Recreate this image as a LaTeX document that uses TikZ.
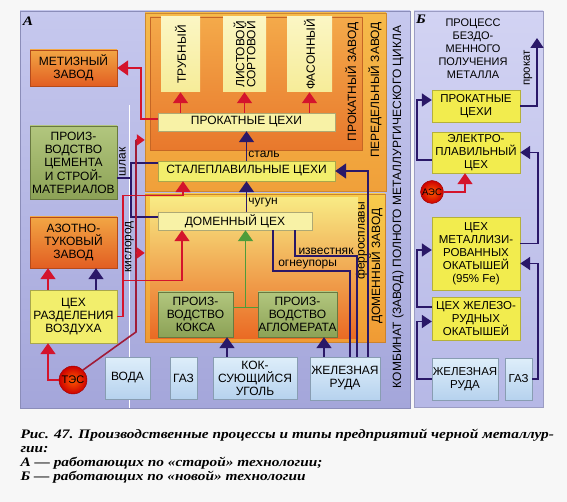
\documentclass[tikz,border=0pt]{standalone}
\usepackage{fontspec}
\setmainfont{Liberation Sans}
\newfontfamily\capfont[FakeStretch=1.18]{Liberation Serif}
\usetikzlibrary{arrows.meta}
\definecolor{redln}{HTML}{D4142C}
\definecolor{navyln}{HTML}{2A1868}
\definecolor{greenln}{HTML}{4E9C3A}
\definecolor{maroonln}{HTML}{A01C38}
\definecolor{panAt}{HTML}{C6C8EE}
\definecolor{panAb}{HTML}{A4A6DA}
\definecolor{panBt}{HTML}{D2D3F3}
\definecolor{panBb}{HTML}{B6B8E6}
\definecolor{yelA}{HTML}{F8F2A6}
\definecolor{yelS}{HTML}{F2EE6C}
\definecolor{yelB}{HTML}{F2EC4E}
\definecolor{orT}{HTML}{F2A644}
\definecolor{orB}{HTML}{E25E22}
\definecolor{grT}{HTML}{B2C67E}
\definecolor{grB}{HTML}{8CA256}
\definecolor{blT}{HTML}{DEEEFA}
\definecolor{blB}{HTML}{B6D2EE}
\definecolor{perT}{HTML}{F6BA4A}
\definecolor{perB}{HTML}{F0A03A}
\definecolor{przT}{HTML}{F4AA4A}
\definecolor{przB}{HTML}{E8782C}
\definecolor{colT}{HTML}{FBF6C4}
\definecolor{colB}{HTML}{F6EC98}
\definecolor{domT}{HTML}{F7CC4C}
\definecolor{domB}{HTML}{F09A34}
\definecolor{dinT}{HTML}{F8EA84}
\definecolor{dinB}{HTML}{EA6A24}
\newcommand\txtA{\fontsize{12}{13}\selectfont}
\newcommand\txtB{\fontsize{11.5}{13}\selectfont}
\newcommand\capf{\capfont\bfseries\itshape\fontsize{13}{14}\selectfont}
\begin{document}
\begin{tikzpicture}[x=1pt,y=-1pt,font=\txtA,
    box/.style={inner sep=0pt,align=center,line width=0.4pt},
    wh/.style 2 args={minimum width=#1,minimum height=#2},
    pan/.style 2 args={inner sep=0pt,top color=#1,bottom color=#2,draw=#2!85!black,line width=0.4pt},
    frm/.style 2 args={inner sep=0pt,top color=#1,bottom color=#2,draw=#2!85!black,line width=0.5pt},
    ybox/.style={box,fill=yelA,draw=yelA!70!black},
    sbox/.style={box,fill=yelS,draw=yelS!70!black},
    bybox/.style={box,fill=yelB,draw=yelB!75!black,font=\txtB},
    obox/.style={box,top color=orT,bottom color=orB,draw=orB!80!black},
    gbox/.style={box,top color=grT,bottom color=grB,draw=grB!75!black},
    bbox/.style={box,top color=blT,bottom color=blB,draw=blB!75!black},
    plant/.style={circle,inner sep=0pt,minimum size=#1,inner color=orange!70!red,outer color=red!80!black,draw=red!60!black,line width=0.4pt},
    rl/.style={draw=redln,line width=1.8pt},
    rarr/.style={rl,-{Triangle[width=15pt,length=11pt]}},
    rsm/.style={rl,-{Triangle[width=11pt,length=8pt]}},
    nl/.style={draw=navyln,line width=1.8pt},
    narr/.style={nl,-{Triangle[width=15pt,length=11pt]}},
    narrb/.style={nl,-{Triangle[width=13pt,length=10pt]}},
    gl/.style={draw=greenln,line width=1.5pt},
    garr/.style={gl,-{Triangle[width=15pt,length=11pt]}},
    ml/.style={draw=maroonln,line width=1.6pt},
    lbl/.style={inner sep=1pt},
    vlbl/.style={inner sep=1pt,rotate=90}]
\useasboundingbox (0,0) rectangle (567,502);
\fill[gray!6] (0,0) rectangle (567,502);
\node[pan={panAt}{panAb},wh={390}{397}] (panA) at (215,209.5) {};
\node[pan={panBt}{panBb},wh={129}{396}] (panB) at (478.5,209) {};
\node[font=\capf] (labA) at (28,21) {А};
\node[font=\capf] (labB) at (421,19) {Б};
\draw[white,line width=1.2pt] (129.5,105) -- (129.5,408);

\node[frm={perT}{perB},wh={241}{178}] (peredel) at (265.5,102) {};
\node[frm={przT}{przB},wh={212}{133}] (prokzav) at (256,83.5) {};
\node[frm={colT}{colB},draw=none,wh={39}{75}] (col1) at (180.5,54.5) {};
\node[frm={colT}{colB},draw=none,wh={43}{75}] (col2) at (244.5,54.5) {};
\node[frm={colT}{colB},draw=none,wh={45}{75}] (col3) at (309.5,54.5) {};
\node[rotate=90] (ltrub) at (col1) {ТРУБНЫЙ};
\node[rotate=90,align=center,font=\fontsize{12}{11}\selectfont] (llist) at (col2) {ЛИСТОВОЙ\\СОРТОВОЙ};
\node[rotate=90] (lfas) at (col3) {ФАСОННЫЙ};
\node[rotate=90] (lprokz) at (352,82) {ПРОКАТНЫЙ ЗАВОД};
\node[rotate=90] (lpered) at (375,90) {ПЕРЕДЕЛЬНЫЙ ЗАВОД};
\node[ybox,wh={177}{18}] (prokA) at (246.5,122) {ПРОКАТНЫЕ ЦЕХИ};
\node[sbox,wh={177}{20}] (stalA) at (246.5,171) {СТАЛЕПЛАВИЛЬНЫЕ ЦЕХИ};

\node[frm={domT}{domB},wh={240}{148}] (domzav) at (265,268) {};
\node[frm={dinT}{dinB},draw=none,wh={208}{140}] (dominner) at (254,268) {};
\node[rotate=90] (ldomz) at (376,266) {ДОМЕННЫЙ ЗАВОД};
\node[ybox,wh={154}{18}] (domA) at (235,221) {ДОМЕННЫЙ ЦЕХ};
\node[gbox,wh={75}{45}] (koks) at (195.5,314.5) {ПРОИЗ-\\ВОДСТВО\\КОКСА};
\node[gbox,wh={79}{45}] (aglo) at (297.5,314.5) {ПРОИЗ-\\ВОДСТВО\\АГЛОМЕРАТА};
\node[rotate=90] (lkomb) at (398,207) {КОМБИНАТ (ЗАВОД) ПОЛНОГО МЕТАЛЛУРГИЧЕСКОГО ЦИКЛА};

\node[obox,wh={87}{36}] (metiz) at (73.5,68) {МЕТИЗНЫЙ\\ЗАВОД};
\node[gbox,wh={87}{73}] (cement) at (73.5,162.5) {ПРОИЗ-\\ВОДСТВО\\ЦЕМЕНТА\\И СТРОЙ-\\МАТЕРИАЛОВ};
\node[obox,wh={87}{51}] (azot) at (73.5,242.5) {АЗОТНО-\\ТУКОВЫЙ\\ЗАВОД};
\node[sbox,wh={87}{53}] (razd) at (73.5,316.5) {ЦЕХ\\РАЗДЕЛЕНИЯ\\ВОЗДУХА};
\node[plant=28,font=\fontsize{11}{11}\selectfont] (tes) at (73,380) {ТЭС};

\node[bbox,wh={45}{42}] (voda) at (127.5,378) {ВОДА};
\node[bbox,wh={27}{42}] (gazA) at (183.5,378) {ГАЗ};
\node[bbox,wh={84}{42}] (ugol) at (255,378) {КОК-\\СУЮЩИЙСЯ\\УГОЛЬ};
\node[bbox,wh={70}{43}] (rudaA) at (345,378.5) {ЖЕЛЕЗНАЯ\\РУДА};

\foreach \c in {col1,col2,col3}
  \draw[rarr] (prokA.north -| \c.south) -- (\c.south);
\draw[rarr] ([yshift=3pt]prokA.west) -- ++(-17,0) |- (metiz.east);
\draw[narr] (stalA.north) -- node[lbl,right,pos=0.22]{сталь} (prokA.south);
\draw[narr] (domA.north -| stalA.south) -- node[lbl,right,pos=0.3]{чугун} (stalA.south);
\draw[narr] ([xshift=23pt]rudaA.north) |- (stalA.east);
\node[vlbl] (lferro) at (361.5,241) {ферросплавы};
\draw[nl] ([xshift=60pt]domA.south) -- ++(0,26) -- node[lbl,above]{известняк} ++(62,0) -- ([xshift=12pt]rudaA.north);
\draw[nl] ([xshift=38pt]domA.south) -- ++(0,41) -- node[lbl,above,pos=0.45]{огнеупоры} ++(77,0) -- ([xshift=5pt]rudaA.north);

\draw[nl] ([yshift=8pt]stalA.west) -- ++(-27,0) coordinate (slag) |- ([yshift=4pt]domA.west);
\draw[nl] ([yshift=-15.5pt]cement.east) -- ([yshift=-15.5pt]cement.east -| slag);
\node[vlbl] (lslag) at (122.5,162) {шлак};

\draw[rl] (razd.east) -- ++(6,0) -- ++(0,-36) coordinate (ox1) -- ++(0,-85) coordinate (ox2);
\draw[rarr] (ox2) -| ([xshift=-63.5pt]stalA.south);
\draw[rarr] (ox1) -| ([xshift=-53pt]domA.south);
\node[vlbl] (lox) at (129.5,247) {кислород};

\draw[ml] (tes.north east) -- ++(53,-38) -- ++(0,-79) coordinate (t3) -- ++(0,-113) coordinate (t2);
\draw[rsm] (t2) -- (t2 -| peredel.west);
\draw[rsm] (t3) -- (t3 -| domzav.west);
\draw[rarr] (tes.west) -| ([xshift=-25.5pt]razd.south);
\draw[rarr] ([xshift=-25.5pt]razd.north) -- ([xshift=-25.5pt]azot.south);
\draw[narr] ([xshift=22.5pt]razd.north) -- ([xshift=22.5pt]azot.south);

\draw[gl] ([yshift=7pt]koks.east) -- coordinate[pos=0.5] (gmid) ([yshift=7pt]aglo.west);
\draw[garr] (gmid) -- (gmid |- domA.south);
\draw[narr] ([xshift=-28pt]ugol.north) -- ([xshift=-28pt]ugol.north |- koks.south);
\draw[narr] ([xshift=-21pt]rudaA.north) -- ([xshift=-21pt]rudaA.north |- aglo.south);

\node[align=center,font=\fontsize{11}{13}\selectfont] (titB) at (473,49) {ПРОЦЕСС\\БЕЗДО-\\МЕННОГО\\ПОЛУЧЕНИЯ\\МЕТАЛЛА};
\node[bybox,wh={88}{32}] (prokB) at (476,106) {ПРОКАТНЫЕ\\ЦЕХИ};
\node[bybox,wh={88}{41}] (elekB) at (476,152.5) {ЭЛЕКТРО-\\ПЛАВИЛЬНЫЙ\\ЦЕХ};
\node[plant=23,font=\fontsize{9.5}{10}\selectfont] (aes) at (432,192) {АЭС};
\node[bybox,wh={88}{73}] (metB) at (476,253.5) {ЦЕХ\\МЕТАЛЛИЗИ-\\РОВАННЫХ\\ОКАТЫШЕЙ\\(95\% Fe)};
\node[bybox,wh={88}{43}] (okatB) at (476,318.5) {ЦЕХ ЖЕЛЕЗО-\\РУДНЫХ\\ОКАТЫШЕЙ};
\node[bbox,font=\txtB,wh={66}{42}] (rudaB) at (465,379) {ЖЕЛЕЗНАЯ\\РУДА};
\node[bbox,font=\txtB,wh={27}{42}] (gazB) at (518.5,379) {ГАЗ};

\coordinate (prokout) at (537,38);
\draw[narrb] (prokB.east) -| (prokout);
\node[vlbl,font=\txtB] (lprokat) at (528,68) {прокат};
\draw[narrb] ([yshift=-7.5pt]elekB.west) -- ++(-15,0) |- ([yshift=6pt]prokB.west);
\draw[rarr] (aes.east) -| ([xshift=-11pt]elekB.south);
\draw[narrb] ([yshift=10pt]metB.east) -- ++(18,0) |- (elekB.east);
\draw[narrb] (gazB.east) -- ++(6,0) |- ([yshift=-10pt]metB.east);
\draw[narrb] ([yshift=11.5pt]okatB.west) -- ++(-15,0) |- ([yshift=3.5pt]metB.west);
\draw[narrb] (rudaB.west) -- ++(-15,0) |- ([yshift=-3pt]okatB.west);

\node[anchor=base west,font=\capf] (cap1) at (17,438) {Рис. 47. Производственные процессы и типы предприятий черной металлур-};
\node[anchor=base west,font=\capf] (cap2) at (17,452) {гии:};
\node[anchor=base west,font=\capf] (cap3) at (17,466) {А — работающих по «старой» технологии;};
\node[anchor=base west,font=\capf] (cap4) at (17,480) {Б — работающих по «новой» технологии};
\end{tikzpicture}
\end{document}
